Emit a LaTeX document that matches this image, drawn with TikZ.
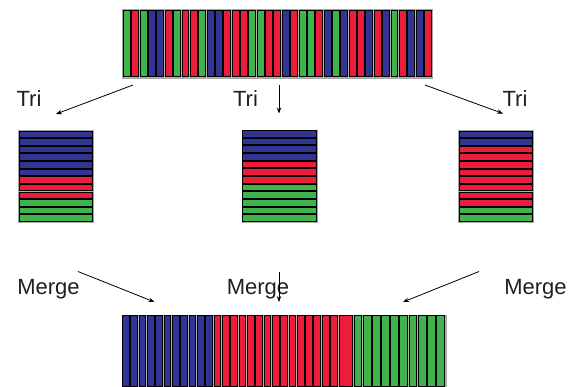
\documentclass[tikz,border=0pt]{standalone}
\usepackage{fontspec}
\setmainfont{Liberation Sans}
\usetikzlibrary{arrows.meta}
\definecolor{cb}{RGB}{50,52,148}
\definecolor{cr}{RGB}{237,28,58}
\definecolor{cg}{RGB}{64,180,74}
\tikzset{
  stripe/.style={draw=black,line width=1pt},
  frame/.style={draw=black!35,fill=black!30,line width=0.6pt,inner sep=0pt,anchor=north west},
  lbl/.style={font=\fontsize{22}{25}\selectfont,text=black!88,inner sep=0pt,anchor=base},
  arr/.style={-{Stealth[length=6pt,width=4.5pt]},line width=0.8pt}
}
\begin{document}
\begin{tikzpicture}[x=1pt,y=-1pt]
\useasboundingbox (0,0) rectangle (570,386);
% top bar
\node[frame,minimum width=310pt,minimum height=69pt] (top) at (122,9) {};
\foreach \c [count=\i from 0] in {cg,cr,cg,cb,cb,cr,cg,cr,cr,cg,cb,cb,cr,cr,cr,cg,cg,cr,cr,cb,cr,cg,cg,cr,cb,cg,cb,cr,cr,cb,cr,cb,cg,cr,cb,cb,cr}{
  \path[stripe,fill=\c] ({122.8+\i*8.36+0.7},10.2) rectangle ({122.8+(\i+1)*8.36-0.7},76.6);
}
% sorted blocks
\node[frame,minimum width=75pt,minimum height=92pt] (bl) at (18,130) {};
\node[frame,minimum width=75pt,minimum height=92pt] (bm) at (241.5,129.5) {};
\node[frame,minimum width=75pt,minimum height=92pt] (br) at (458,130) {};
\foreach \c [count=\i from 0] in {cb,cb,cb,cb,cb,cb,cr,cr,cr,cg,cg,cg}{
  \path[stripe,fill=\c] (19,{130.5+\i*7.62+0.6}) rectangle (92.5,{130.5+(\i+1)*7.62-0.6});
}
\foreach \c [count=\i from 0] in {cb,cb,cb,cb,cr,cr,cr,cg,cg,cg,cg,cg}{
  \path[stripe,fill=\c] (242.3,{130+\i*7.66+0.6}) rectangle (316.3,{130+(\i+1)*7.66-0.6});
}
\foreach \c [count=\i from 0] in {cb,cb,cr,cr,cr,cr,cr,cr,cr,cr,cg,cg}{
  \path[stripe,fill=\c] (459,{130.5+\i*7.62+0.6}) rectangle (532.5,{130.5+(\i+1)*7.62-0.6});
}
% bottom bar
\node[frame,minimum width=324pt,minimum height=72pt] (bot) at (121.5,314.5) {};
\foreach \c [count=\i from 0] in {cb,cb,cb,cb,cb,cb,cb,cb,cb,cb,cb,cr,cr,cr,cr,cr,cr,cr,cr,cr,cr,cr,cr,cr,cr,cr}{
  \path[stripe,fill=\c] ({121.7+\i*8.33+0.7},315.5) rectangle ({121.7+(\i+1)*8.33-0.7},386);
}
\path[stripe,fill=cr] (339,315.5) rectangle (352.6,386);
\foreach \i in {0,...,9}{
  \path[stripe,fill=cg] ({353.4+\i*9.17+0.7},315.5) rectangle ({353.4+(\i+1)*9.17-0.7},386);
}
% labels
\node[lbl] (t1) at (29,106.5) {Tri};
\node[lbl] (t2) at (245.5,106.5) {Tri};
\node[lbl] (t3) at (515,106.5) {Tri};
\node[lbl] (m1) at (48.5,294) {Merge};
\node[lbl] (m2) at (258,294) {Merge};
\node[lbl] (m3) at (535.5,294) {Merge};
% arrow ends
\coordinate (a1s) at (133,85);   \coordinate (a1e) at (56,114);
\coordinate (a2s) at (279,85);   \coordinate (a2e) at (279,113.5);
\coordinate (a3s) at (425,85);   \coordinate (a3e) at (503,113.5);
\coordinate (b1s) at (78,271.5); \coordinate (b1e) at (154.5,302);
\coordinate (b2s) at (279,271.5);\coordinate (b2e) at (279,302);
\coordinate (b3s) at (479,271.5);\coordinate (b3e) at (403,302);
\draw[arr] (a1s) -- (a1e);
\draw[arr] (a2s) -- (a2e);
\draw[arr] (a3s) -- (a3e);
\draw[arr] (b1s) -- (b1e);
\draw[arr] (b2s) -- (b2e);
\draw[arr] (b3s) -- (b3e);
\end{tikzpicture}
\end{document}
